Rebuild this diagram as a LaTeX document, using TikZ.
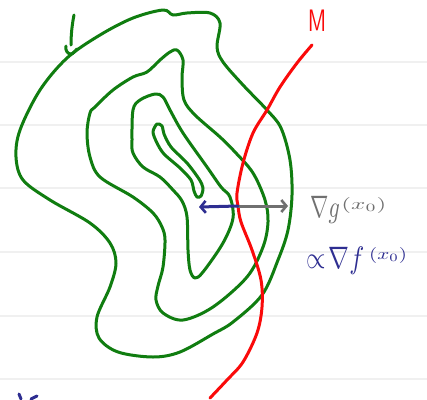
\documentclass[tikz,border=0pt]{standalone}
\usepackage{graphicx}
\usetikzlibrary{arrows.meta}
\definecolor{pgreen}{RGB}{16,125,16}
\definecolor{pred}{RGB}{250,10,10}
\definecolor{pblue}{RGB}{46,46,145}
\definecolor{pgray}{RGB}{112,112,112}
\definecolor{rule}{RGB}{240,240,240}
\tikzset{
  contour/.style={pgreen, line width=3pt, line join=round, line cap=round},
  mcurve/.style={pred, line width=3pt, line cap=round},
  ruleline/.style={rule, line width=1.6pt},
  vec/.style={line width=3pt, line cap=round, -{Straight Barb[length=5pt,width=12pt,line width=2.6pt]}}
}
\begin{document}
\begin{tikzpicture}[x=1pt,y=-1pt]
\useasboundingbox (0,0) rectangle (427,399);
\fill[white] (0,0) rectangle (427,399);
% ruled paper
\foreach \yy in {62,125,188,252,316,379}
  \draw[ruleline] (0,\yy) -- (427,\yy);
% outer level curve
\draw[contour] plot[smooth cycle, tension=0.55] coordinates {
 (163,10) (173,15) (187,13) (210,13) (220,23) (217,47) (223,62) (243,85) (267,110)
 (281,128) (290,160) (292,195) (288,230) (278,260) (262,295) (233,322) (213,334) (180,352)
 (153,357) (118,352) (99,338) (97,317) (110,287) (116,263) (110,243) (90,223) (50,200)
 (23,180) (16,157) (20,130) (40,90) (67,58) (100,35) (133,18)};
% second level curve
\draw[contour] plot[smooth cycle, tension=0.55] coordinates {
 (177,50) (183,60) (182,78) (184,100) (195,115) (220,137) (235,152) (253,173) (265,200)
 (268,222) (263,247) (247,277) (213,307) (183,320) (163,313) (156,300) (158,286)
 (163,267) (165,240) (162,227) (153,213) (133,197) (100,177) (90,157) (87,133) (90,113)
 (95,107) (113,90) (133,77) (147,72) (160,60) (170,52)};
% third level curve
\draw[contour] plot[smooth cycle, tension=0.55] coordinates {
 (155,94) (163,97) (170,110) (183,133) (207,167) (221,187) (230,197) (233,218)
 (223,243) (203,272) (195,278) (190,270) (188,250) (187,217) (182,201) (173,190)
 (160,177) (143,167) (133,153) (132,140) (133,110) (140,100)};
% innermost level curve
\draw[contour] plot[smooth cycle, tension=0.5] coordinates {
 (157,124) (162,126) (164,134) (171,147) (187,163) (199,179) (203,188) (201,196)
 (197,197) (194,191) (191,180) (180,168) (164,154) (157,143) (153,132)};
% level curve label hook
\draw[contour] (74,15) .. controls (72,25) and (71,35) .. (71,45);
\draw[contour] (66,46) .. controls (65,51) and (68,54) .. (71,54) .. controls (73,54) and (75,51) .. (77,49);
% constraint manifold M
\draw[mcurve] plot[smooth, tension=0.55] coordinates {
 (312,45) (297,63) (280,87) (267,110) (253,133) (243,163) (237,193) (238,206)
 (241,222) (252,250) (261,280) (262,307) (257,333) (243,362) (227,380) (210,398)};
\node[pred, xscale=2.1, yscale=3.1, inner sep=0pt] (mlab) at (317,21) {\sffamily M};
% gradient vectors at x0
\coordinate (x0) at (238,206);
\coordinate (gtip) at (288,206);
\coordinate (ftip) at (199,207);
\draw[vec, pgray] (x0) -- (gtip);
\draw[vec, pblue] (x0) -- (ftip);
\node[pgray, anchor=base west, inner sep=0pt] (glab) at (310,217)
  {\scalebox{2.2}[3.1]{$\nabla g$}\,\raisebox{8pt}{\scalebox{2.5}[1.6]{$(x_0)$}}};
\node[pblue, anchor=base west, inner sep=0pt] (flab) at (306,268)
  {\scalebox{2.5}[3.1]{$\propto\!\nabla f$}\hspace{5pt}\raisebox{9pt}{\scalebox{2.1}[1.6]{$(x_0)$}}};
% cut-off mark at bottom left
\draw[pblue, line width=3pt, line cap=round] (19,394) -- (21,399);
\draw[pblue, line width=3pt, line cap=round] (31,399) -- (37,396);
\end{tikzpicture}
\end{document}
